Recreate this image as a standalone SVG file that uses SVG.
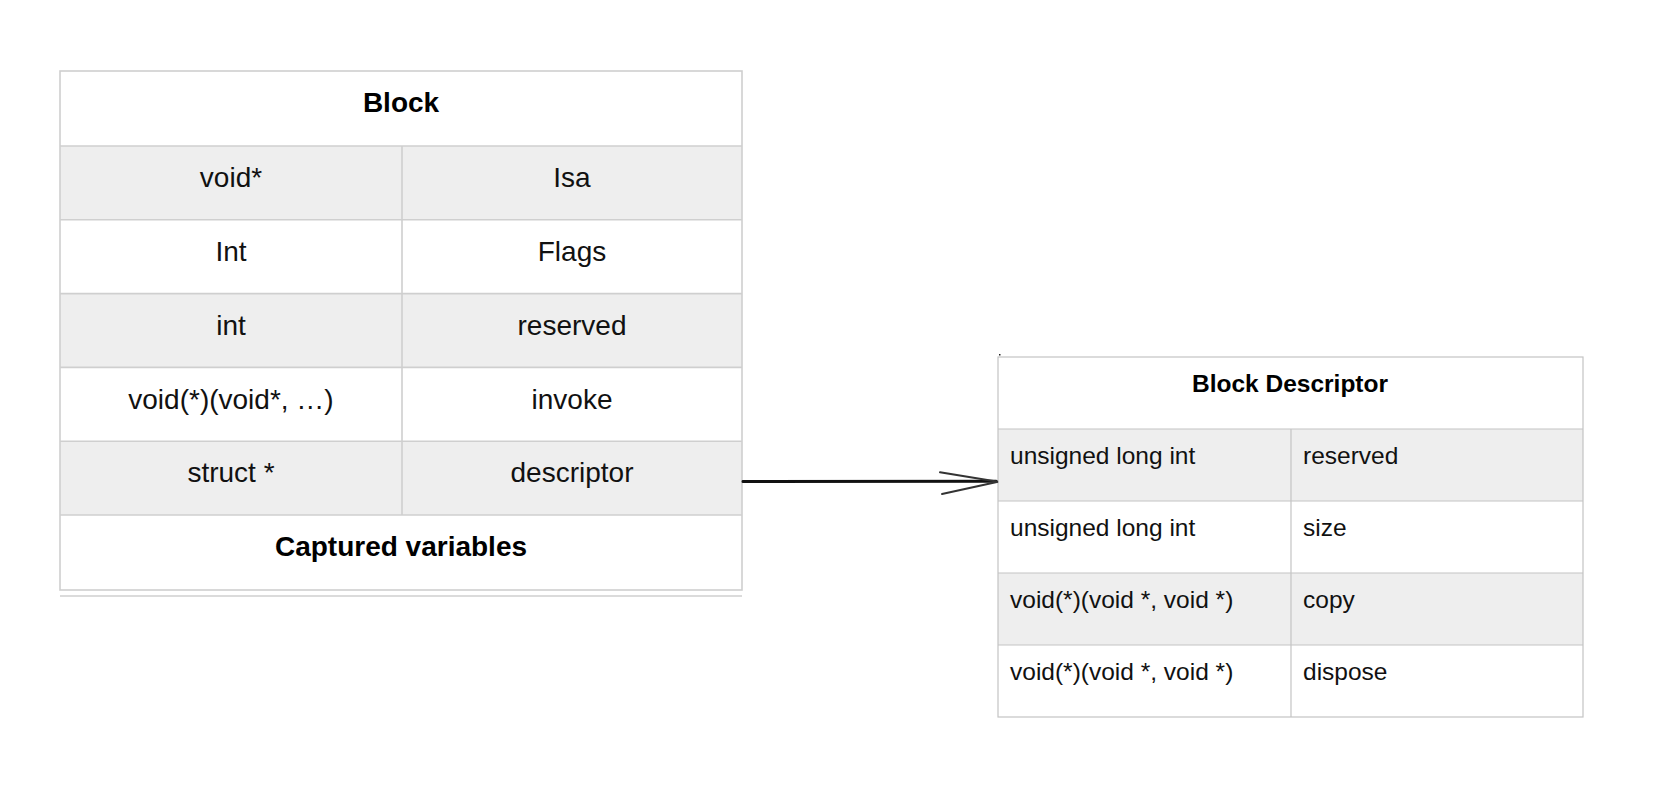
<svg xmlns="http://www.w3.org/2000/svg" width="1666" height="806" viewBox="0 0 1666 806">
<defs>
<style>
.bg{fill:#ffffff}
.shade{fill:#eeeeee}
.grid1{stroke:#cfcfcf;stroke-width:1.6;fill:none}
.grid2{stroke:#c4c4c4;stroke-width:1.2;fill:none}
.t{font-family:"Liberation Sans",Arial,sans-serif;font-size:28px;fill:#111111;text-anchor:middle}
.tb{font-family:"Liberation Sans",Arial,sans-serif;font-size:28px;font-weight:bold;fill:#000000;text-anchor:middle}
.s{font-family:"Liberation Sans",Arial,sans-serif;font-size:24.5px;fill:#111111}
.sb{font-family:"Liberation Sans",Arial,sans-serif;font-size:24.5px;font-weight:bold;fill:#000000;text-anchor:middle}
.conn{stroke:#111111;stroke-width:3;fill:none;stroke-linecap:round}
.head{stroke:#333333;stroke-width:2;fill:none;stroke-linecap:round}
</style>
</defs>
<rect x="0" y="0" width="1666" height="806" fill="#ffffff"/>

<g id="block">
<rect class="bg" x="60" y="71" width="682" height="519"/>
<rect class="shade" x="60" y="146" width="682" height="73.8"/>
<rect class="shade" x="60" y="293.6" width="682" height="73.8"/>
<rect class="shade" x="60" y="441.2" width="682" height="73.8"/>
<rect class="grid1" x="60" y="71" width="682" height="519"/>
<line class="grid1" x1="60" y1="146" x2="742" y2="146"/>
<line class="grid1" x1="60" y1="219.8" x2="742" y2="219.8"/>
<line class="grid1" x1="60" y1="293.6" x2="742" y2="293.6"/>
<line class="grid1" x1="60" y1="367.4" x2="742" y2="367.4"/>
<line class="grid1" x1="60" y1="441.2" x2="742" y2="441.2"/>
<line class="grid1" x1="60" y1="515" x2="742" y2="515"/>
<line class="grid1" x1="402" y1="146" x2="402" y2="515"/>
<line class="grid1" x1="60" y1="596" x2="742" y2="596"/>
<text class="tb" x="401" y="112">Block</text>
<text class="t" x="231" y="187">void*</text>
<text class="t" x="572" y="187">Isa</text>
<text class="t" x="231" y="261">Int</text>
<text class="t" x="572" y="261">Flags</text>
<text class="t" x="231" y="334.5">int</text>
<text class="t" x="572" y="334.5">reserved</text>
<text class="t" x="231" y="408.5">void(*)(void*, …)</text>
<text class="t" x="572" y="408.5">invoke</text>
<text class="t" x="231" y="482">struct *</text>
<text class="t" x="572" y="482">descriptor</text>
<text class="tb" x="401" y="556">Captured variables</text>
</g>

<g id="block-descriptor">
<rect class="bg" x="998" y="357" width="585" height="360"/>
<rect class="shade" x="998" y="429" width="585" height="72"/>
<rect class="shade" x="998" y="573" width="585" height="72"/>
<rect class="grid2" x="998" y="357" width="585" height="360"/>
<line class="grid2" x1="998" y1="429" x2="1583" y2="429"/>
<line class="grid2" x1="998" y1="501" x2="1583" y2="501"/>
<line class="grid2" x1="998" y1="573" x2="1583" y2="573"/>
<line class="grid2" x1="998" y1="645" x2="1583" y2="645"/>
<line class="grid2" x1="1291" y1="429" x2="1291" y2="717"/>
<rect x="999" y="354" width="1.5" height="1.5" fill="#222222"/>
<text class="sb" x="1290" y="392">Block Descriptor</text>
<text class="s" x="1010" y="464">unsigned long int</text>
<text class="s" x="1303" y="464">reserved</text>
<text class="s" x="1010" y="536">unsigned long int</text>
<text class="s" x="1303" y="536">size</text>
<text class="s" x="1010" y="608">void(*)(void *, void *)</text>
<text class="s" x="1303" y="608">copy</text>
<text class="s" x="1010" y="680">void(*)(void *, void *)</text>
<text class="s" x="1303" y="680">dispose</text>
</g>

<g id="connectors">
<path class="conn" d="M743,481.5 L996,481.2"/>
<path class="head" d="M940,472.3 L998,481.7 L942,494"/>
</g>
</svg>
